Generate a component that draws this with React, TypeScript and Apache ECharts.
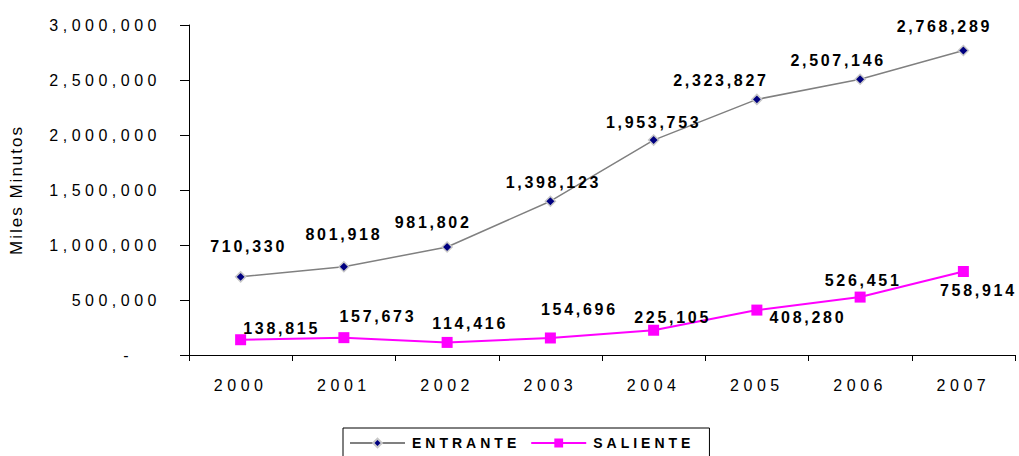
import React, { useEffect, useRef } from "react";
import * as echarts from "echarts";

const years = ["2000", "2001", "2002", "2003", "2004", "2005", "2006", "2007"];
const entrante = [710330, 801918, 981802, 1398123, 1953753, 2323827, 2507146, 2768289];
const saliente = [138815, 157673, 114416, 154696, 225105, 408280, 526451, 758914];

// label offsets (px) relative to each point
const entranteLabelOffsets = [[7, -30], [-1, -32], [-15, -25], [2, -19], [-1, -18], [-37, -19], [-23, -19], [-20, -24]];
const salienteLabelOffsets = [[40, -11], [33, -21], [22, -19], [28, -28], [18, -13], [50, 7], [2, -17], [14, 19]];

const fmt = (v: number) => v.toLocaleString("en-US");
const FONT = "Arial";

export default function App() {
  const ref = useRef<HTMLDivElement>(null);
  useEffect(() => {
    if (!ref.current) return;
    const chart = echarts.init(ref.current, null, { renderer: "svg" });
    const mkData = (vals: number[], offs: number[][]) =>
      vals.map((v, i) => ({
        value: v,
        label: { offset: [offs[i][0] + 1, offs[i][1]] },
      }));
    const dataLabel = {
      show: true,
      position: "inside",
      formatter: (p: any) => fmt(p.value),
      color: "#000",
      fontFamily: FONT,
      fontWeight: "bold",
      fontSize: 16,
    };
    chart.setOption({
      animation: false,
      backgroundColor: "#fff",
      grid: { left: 186, right: 4, top: 25, bottom: 101 },
      legend: {
        left: 343,
        top: 428,
        borderColor: "#000",
        borderWidth: 1,
        padding: [8, 47, 14, 6],
        itemWidth: 55,
        itemHeight: 11,
        itemGap: 42,
        textStyle: { fontFamily: FONT, fontWeight: "bold", fontSize: 14, color: "#000", padding: [0, 0, 0, 2] },
        data: ["ENTRANTE", "SALIENTE"],
      },
      xAxis: {
        type: "category",
        data: years,
        boundaryGap: true,
        axisLine: { lineStyle: { color: "#000", width: 1 } },
        axisTick: { show: true, length: 6, lineStyle: { color: "#000" } },
        axisLabel: { color: "#000", fontFamily: FONT, fontSize: 16, margin: 22 },
      },
      yAxis: {
        type: "value",
        min: 0,
        max: 3000000,
        interval: 500000,
        name: "Miles Minutos",
        nameLocation: "middle",
        nameGap: 164,
        nameRotate: 90,
        nameTextStyle: { color: "#000", fontFamily: FONT, fontSize: 17 },
        axisLine: { show: true, lineStyle: { color: "#000", width: 1 } },
        axisTick: { show: true, length: 9, lineStyle: { color: "#000" } },
        splitLine: { show: false },
        axisLabel: {
          color: "#000",
          fontFamily: FONT,
          fontSize: 16,
          margin: 28,
          formatter: (v: number) => (v === 0 ? "{d|-}" : fmt(v)),
          rich: { d: { color: "#000", fontFamily: FONT, fontSize: 16, padding: [0, 28, 0, 0] } },
        },
      },
      series: [
        {
          name: "ENTRANTE",
          type: "line",
          data: mkData(entrante, entranteLabelOffsets),
          symbol: "diamond",
          symbolSize: 10,
          itemStyle: { color: "#000080", borderColor: "#c8c8c8", borderWidth: 1.5 },
          lineStyle: { color: "#808080", width: 1.5 },
          label: dataLabel,
        },
        {
          name: "SALIENTE",
          type: "line",
          data: mkData(saliente, salienteLabelOffsets),
          symbol: "rect",
          symbolSize: 11,
          itemStyle: { color: "#ff00ff" },
          lineStyle: { color: "#ff00ff", width: 2 },
          label: dataLabel,
        },
      ],
    });
    return () => chart.dispose();
  }, []);
  return (
    <>
      <style>{`
        .chartbox svg text { letter-spacing: 4.5px; }
        .chartbox svg text[style*="bold"] { letter-spacing: 2.7px; }
        .chartbox svg text[style*="bold"][style*="14px"] { letter-spacing: 4px; }
        .chartbox svg text[style*="17px"] { letter-spacing: 2px; }
      `}</style>
      <div
        ref={ref}
        className="chartbox"
        style={{ position: "fixed", left: 0, top: 0, width: 1019, height: 456, background: "#fff" }}
      />
    </>
  );
}
